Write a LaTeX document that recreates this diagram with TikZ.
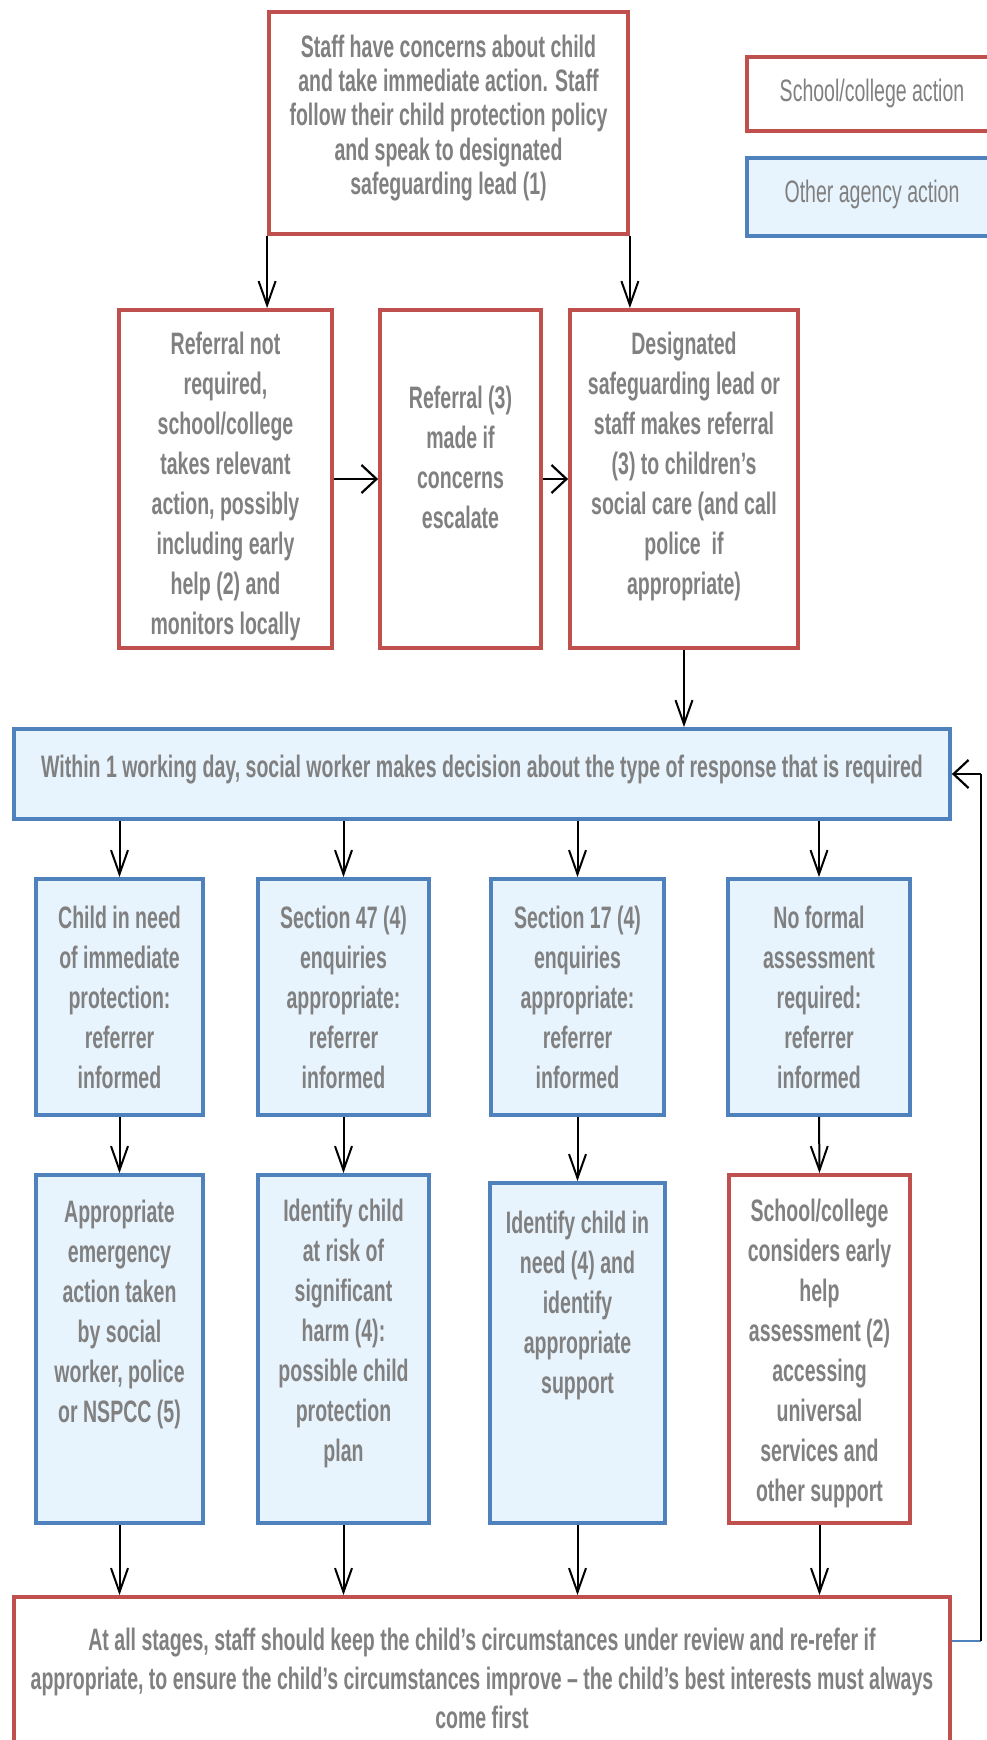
\documentclass[tikz,border=0pt]{standalone}
\usepackage{fontspec}
\setmainfont{Liberation Sans}[FakeStretch=0.63]
\usetikzlibrary{arrows.meta}
\definecolor{redb}{RGB}{192,80,77}
\definecolor{blueb}{RGB}{79,129,189}
\definecolor{bluef}{RGB}{232,244,253}
\definecolor{txtg}{RGB}{128,128,128}
\begin{document}
\begin{tikzpicture}[x=1pt,y=-1pt,
 schoolbox/.style={draw=redb, line width=3.8pt, fill=white, inner sep=0pt},
 agencybox/.style={draw=blueb, line width=3.8pt, fill=bluef, inner sep=0pt},
 txt/.style={text=txtg, font=\fontsize{31}{40}\selectfont\bfseries, align=center, inner sep=0pt},
 legtxt/.style={text=txtg, font=\fontsize{31}{40}\selectfont, align=center, inner sep=0pt},
 varr/.style={line width=2pt, -{Straight Barb[length=24pt,width=17pt,line width=2pt]}},
 harr/.style={line width=2.6pt, -{Straight Barb[length=15pt,width=28pt,line width=2.2pt]}}]
\useasboundingbox (0,0) rectangle (987,1740);
% legend
\node[schoolbox, minimum width=253pt, minimum height=74pt] (legs) at (873.5,94) {};
\node[legtxt] (legst) at (872,93) {School/college action};
\node[agencybox, minimum width=253pt, minimum height=78pt] (lega) at (873.5,197) {};
\node[legtxt] (legat) at (872,194) {Other agency action};
% top
\node[schoolbox, minimum width=359pt, minimum height=222pt] (top) at (448.5,123) {};
\node[txt, font=\fontsize{31}{34.4}\selectfont\bfseries] (ttop) at (448.5,118) {Staff have concerns about child\\and take immediate action. Staff\\follow their child protection policy\\and speak to designated\\safeguarding lead (1)};
% row 2
\node[schoolbox, minimum width=213pt, minimum height=338pt] (A) at (225.5,479) {};
\node[txt] (tA) at (225.5,486) {Referral not\\required,\\school/college\\takes relevant\\action, possibly\\including early\\help (2) and\\monitors locally};
\node[schoolbox, minimum width=161pt, minimum height=338pt] (B) at (460.5,479) {};
\node[txt] (tB) at (460.5,457) {Referral (3)\\made if\\concerns\\escalate};
\node[schoolbox, minimum width=228pt, minimum height=338pt] (C) at (684,479) {};
\node[txt] (tC) at (684,466) {Designated\\safeguarding lead or\\staff makes referral\\(3) to children’s\\social care (and call\\police~~if\\appropriate)};
% wide
\node[agencybox, minimum width=936pt, minimum height=90pt] (wide) at (482,774) {};
\node[txt] (twide) at (482,770) {Within 1 working day, social worker makes decision about the type of response that is required};
% row 4
\node[agencybox, minimum width=167pt, minimum height=236pt] (r41) at (119.5,997) {};
\node[txt] (t41) at (119.5,997) {Child in need\\of immediate\\protection:\\referrer\\informed};
\node[agencybox, minimum width=171pt, minimum height=236pt] (r42) at (343.5,997) {};
\node[txt] (t42) at (343.5,997) {Section 47 (4)\\enquiries\\appropriate:\\referrer\\informed};
\node[agencybox, minimum width=173pt, minimum height=236pt] (r43) at (577.5,997) {};
\node[txt] (t43) at (577.5,997) {Section 17 (4)\\enquiries\\appropriate:\\referrer\\informed};
\node[agencybox, minimum width=182pt, minimum height=236pt] (r44) at (819,997) {};
\node[txt] (t44) at (819,997) {No formal\\assessment\\required:\\referrer\\informed};
% row 5
\node[agencybox, minimum width=167pt, minimum height=348pt] (r51) at (119.5,1349) {};
\node[txt] (t51) at (119.5,1314) {Appropriate\\emergency\\action taken\\by social\\worker, police\\or NSPCC (5)};
\node[agencybox, minimum width=171pt, minimum height=348pt] (r52) at (343.5,1349) {};
\node[txt] (t52) at (343.5,1333) {Identify child\\at risk of\\significant\\harm (4):\\possible child\\protection\\plan};
\node[agencybox, minimum width=175pt, minimum height=340pt] (r53) at (577.5,1353) {};
\node[txt] (t53) at (577.5,1305) {Identify child in\\need (4) and\\identify\\appropriate\\support};
\node[schoolbox, minimum width=181pt, minimum height=348pt] (r54) at (819.5,1349) {};
\node[txt] (t54) at (819.5,1353) {School/college\\considers early\\help\\assessment (2)\\accessing\\universal\\services and\\other support};
% bottom
\node[schoolbox, minimum width=936pt, minimum height=162pt] (bot) at (482,1678) {};
\node[txt, font=\fontsize{31}{39}\selectfont\bfseries] (tbot) at (482,1678) {At all stages, staff should keep the child’s circumstances under review and re-refer if\\appropriate, to ensure the child’s circumstances improve – the child’s best interests must always\\come first};
% connectors
\draw[varr] (top.south west) -- (top.south west |- A.north);
\draw[varr] (top.south east) -- (top.south east |- C.north);
\draw[harr] (A.east) -- (B.west);
\draw[harr] (B.east) -- (C.west);
\draw[varr] (C.south) -- (C.south |- wide.north);
\foreach \n in {r41,r42,r43,r44}{
  \draw[varr] (wide.south -| \n.north) -- (\n.north);
}
\draw[varr] (r41.south) -- (r51.north);
\draw[varr] (r42.south) -- (r52.north);
\draw[varr] (r43.south) -- (r53.north);
\draw[varr] (r44.south) -- (r54.north);
\foreach \n in {r51,r52,r53,r54}{
  \draw[varr] (\n.south) -- (\n.south |- bot.north);
}
\coordinate (fbk) at (981,1641);
\draw[line width=2.6pt, blueb] ([yshift=37pt]bot.east) -- (fbk);
\draw[line width=2pt] (fbk) -- (fbk |- wide.east) coordinate (fbt);
\draw[harr] (fbt) -- (wide.east);
\end{tikzpicture}
\end{document}
